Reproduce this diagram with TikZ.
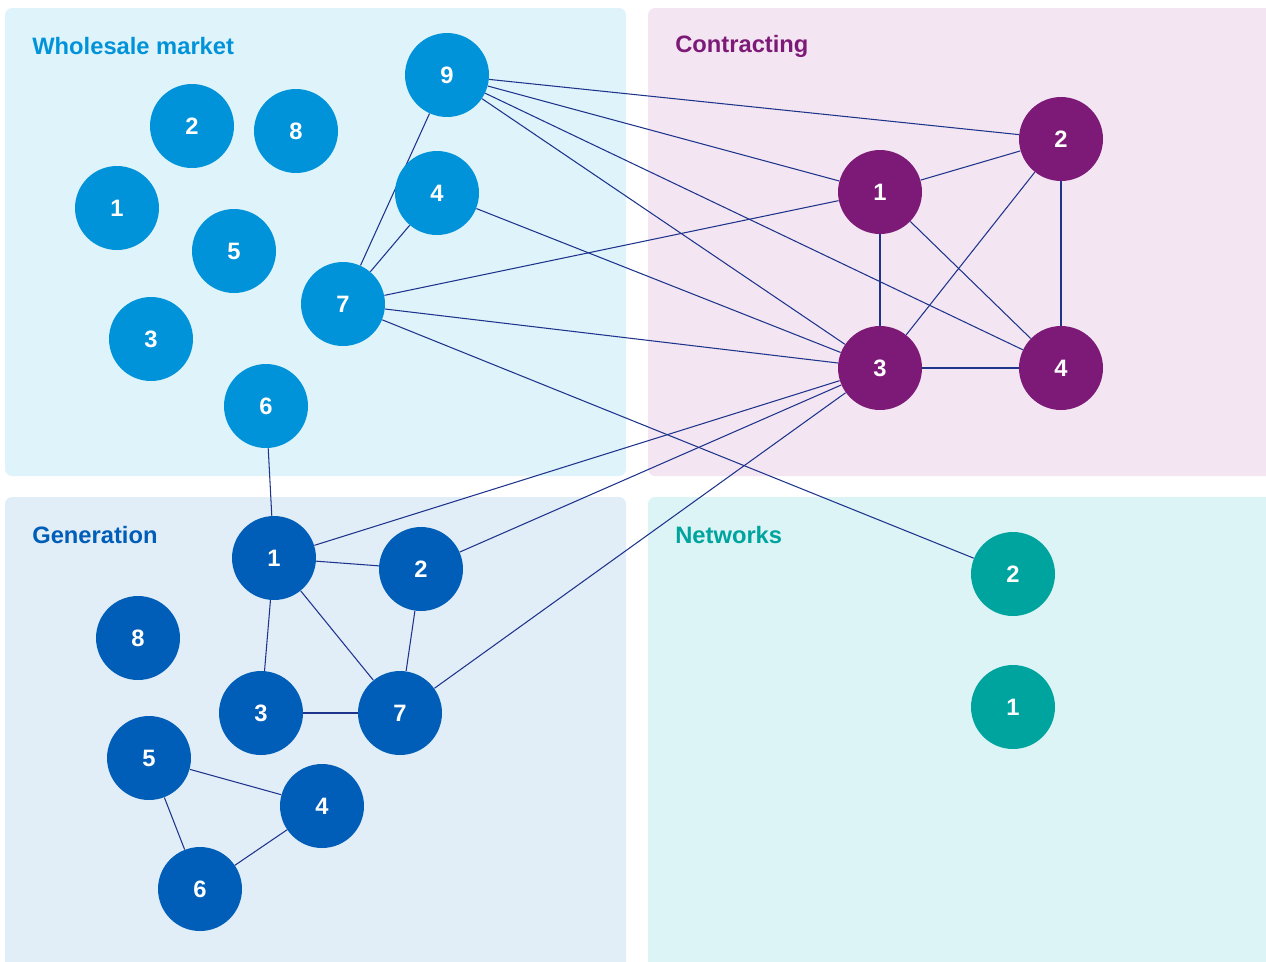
\documentclass[tikz,border=0pt]{standalone}
\usepackage{fontspec}
\setmainfont{Liberation Sans}
\usetikzlibrary{positioning}
\definecolor{wsblue}{RGB}{0,147,217}
\definecolor{wsback}{RGB}{223,243,250}
\definecolor{ctpurple}{RGB}{125,26,120}
\definecolor{ctback}{RGB}{243,230,242}
\definecolor{gnblue}{RGB}{0,94,184}
\definecolor{gnback}{RGB}{225,237,247}
\definecolor{nwteal}{RGB}{0,164,159}
\definecolor{nwback}{RGB}{220,244,245}
\definecolor{linkblue}{RGB}{30,52,140}
\pgfdeclarelayer{panels}
\pgfdeclarelayer{links}
\pgfsetlayers{panels,links,main}

\begin{document}
\begin{tikzpicture}[x=0.02cm, y=-0.02cm,
  dot/.style={circle, minimum size=1.68cm, inner sep=0pt, text=white,
    font=\fontsize{13.5}{16}\selectfont\bfseries},
  wdot/.style={dot, fill=wsblue},
  cdot/.style={dot, fill=ctpurple},
  gdot/.style={dot, fill=gnblue},
  ndot/.style={dot, fill=nwteal},
  title/.style={anchor=west, inner sep=0pt, font=\fontsize{13.5}{16}\selectfont\bfseries},
  link/.style={draw=linkblue, line width=0.6pt}]
\useasboundingbox (0,0) rectangle (1266,961);

% panels
\begin{pgfonlayer}{panels}
  \fill[wsback, rounded corners=4pt] (5,8) rectangle (626,476);
  \fill[ctback, rounded corners=4pt] (648,8) rectangle (1290,476);
  \fill[gnback, rounded corners=4pt] (5,497) rectangle (626,990);
  \fill[nwback, rounded corners=4pt] (648,497) rectangle (1290,990);
\end{pgfonlayer}
\node[title, text=wsblue] (wtitle) at (32,46) {Wholesale market};
\node[title, text=ctpurple] (ctitle) at (675,46) {Contracting};
\node[title, text=gnblue] (gtitle) at (32,535) {Generation};
\node[title, text=nwteal] (ntitle) at (675,535) {Networks};

% wholesale market
\foreach \n/\x/\y in {9/447/75, 2/192/126, 8/296/131, 1/117/208, 4/437/193,
    5/234/251, 7/343/304, 3/151/339, 6/266/406}
  \node[wdot] (w\n) at (\x,\y) {\n};
% contracting
\foreach \n/\x/\y in {1/880/192, 2/1061/139, 3/880/368, 4/1061/368}
  \node[cdot] (c\n) at (\x,\y) {\n};
% generation
\foreach \n/\x/\y in {1/274/558, 2/421/569, 8/138/638, 3/261/713, 7/400/713,
    5/149/758, 4/322/806, 6/200/889}
  \node[gdot] (g\n) at (\x,\y) {\n};
% networks
\foreach \n/\x/\y in {2/1013/574, 1/1013/707}
  \node[ndot] (n\n) at (\x,\y) {\n};

% links
\begin{pgfonlayer}{links}
\foreach \a/\b in {w9/c2, w9/c1, w9/c3, w9/c4, w9/w7, w4/w7, w4/c3,
    w7/c1, w7/c3, w7/n2, c1/c2, c1/c3, c1/c4, c2/c3, c2/c4, c3/c4,
    w6/g1, g1/c3, g2/c3, g7/c3, g1/g2, g1/g3, g1/g7, g2/g7, g3/g7,
    g5/g4, g5/g6, g4/g6}
  \draw[link] (\a) -- (\b);
\end{pgfonlayer}
\end{tikzpicture}
\end{document}
